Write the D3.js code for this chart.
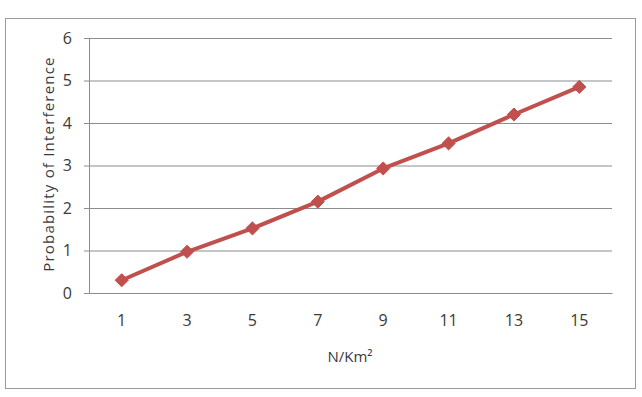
<!DOCTYPE html>
<html>
<head>
<meta charset="utf-8">
<script src="https://cdn.jsdelivr.net/npm/d3@7"></script>
<style>
body { margin: 0; background: #fff; overflow: hidden; }
svg { display: block; }
</style>
</head>
<body>
<div id="chart"></div>
<script>
// density categories and interference values
var categories = ['1', '3', '5', '7', '9', '11', '13', '15'];
var values = [0.3, 0.97, 1.52, 2.15, 2.93, 3.52, 4.2, 4.85];
var yTicks = [0, 1, 2, 3, 4, 5, 6];
var xTitle = 'N/Km\u00B2';
var yTitle = 'Probability of Interference';

var outerWidth = 642, outerHeight = 397;
var margin = { left: 89, top: 38, right: 30, bottom: 104 };
var innerWidth = outerWidth - margin.left - margin.right;
var innerHeight = outerHeight - margin.top - margin.bottom;

var svg = d3.select('#chart').append('svg')
  .attr('width', outerWidth)
  .attr('height', outerHeight);

// chart frame
svg.append('rect')
  .attr('x', 5.5).attr('y', 18.5)
  .attr('width', 630).attr('height', 370)
  .attr('fill', '#fff')
  .attr('stroke', '#9a9a9a')
  .attr('stroke-width', 1);

var x = d3.scaleBand().domain(categories).range([0, innerWidth]);
var y = d3.scaleLinear().domain([0, 6]).range([innerHeight, 0]);

var g = svg.append('g')
  .attr('transform', 'translate(' + margin.left + ',' + margin.top + ')');

var font = '"Open Sans", "Liberation Sans", sans-serif';

// horizontal grid
g.append('g')
  .attr('class', 'yGrid')
  .call(d3.axisLeft(y).tickValues(yTicks).tickSize(-innerWidth).tickFormat(''))
  .call(s => s.select('.domain').remove())
  .selectAll('line')
  .attr('stroke', '#8c8c8c');

// y axis
var yAxis = g.append('g')
  .attr('class', 'yAxis')
  .call(d3.axisLeft(y).tickValues(yTicks).tickSize(5).tickPadding(12).tickFormat(d3.format('d')));
yAxis.select('.domain').attr('stroke', '#8c8c8c').attr('d', 'M0.5,0V' + innerHeight);
yAxis.selectAll('line').attr('stroke', '#8c8c8c');
yAxis.selectAll('text')
  .style('font-family', font).style('font-size', '16px').attr('fill', '#3a3a3a');

// x axis
var xAxis = g.append('g')
  .attr('class', 'xAxis')
  .attr('transform', 'translate(0,' + innerHeight + ')')
  .call(d3.axisBottom(x).tickSize(0).tickPadding(22));
xAxis.select('.domain').attr('stroke', '#8c8c8c');
xAxis.selectAll('text')
  .style('font-family', font).style('font-size', '16px').attr('fill', '#3a3a3a');

// axis titles
svg.append('text')
  .attr('x', 350)
  .attr('y', 362)
  .attr('text-anchor', 'middle')
  .style('font-family', font).style('font-size', '15px').attr('fill', '#3a3a3a')
  .text(xTitle);

svg.append('text')
  .attr('transform', 'translate(54,164) rotate(-90)')
  .attr('text-anchor', 'middle')
  .style('font-family', font).style('font-size', '15px')
  .style('letter-spacing', '1.2px').attr('fill', '#3a3a3a')
  .text(yTitle);

// series line
var line = d3.line()
  .x((d, i) => x(categories[i]) + x.bandwidth() / 2)
  .y(d => y(d));

g.append('path')
  .datum(values)
  .attr('d', line)
  .attr('fill', 'none')
  .attr('stroke', '#c0504d')
  .attr('stroke-width', 4)
  .attr('stroke-linejoin', 'round');

// diamond markers
g.selectAll('path.marker')
  .data(values)
  .enter()
  .append('path')
  .attr('class', 'marker')
  .attr('d', d3.symbol().type(d3.symbolDiamond2).size(110))
  .attr('transform', (d, i) => 'translate(' + (x(categories[i]) + x.bandwidth() / 2) + ',' + y(d) + ')')
  .attr('fill', '#c0504d')
  .attr('stroke', '#c0504d')
  .attr('stroke-width', 1);
</script>
</body>
</html>
